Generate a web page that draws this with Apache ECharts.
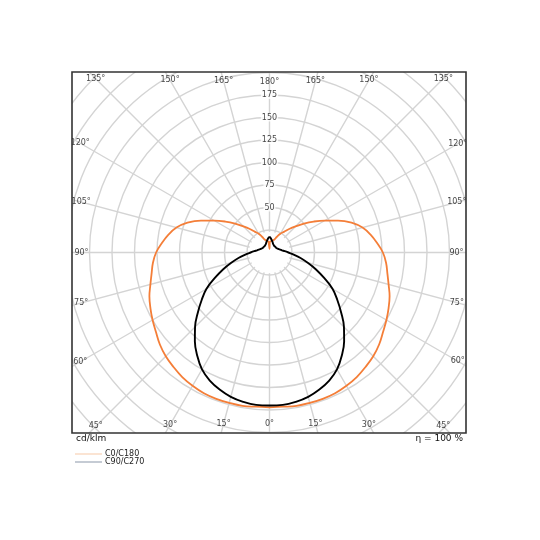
<!DOCTYPE html>
<html>
<head>
<meta charset="utf-8">
<script src="https://cdn.jsdelivr.net/npm/echarts@6/dist/echarts.min.js"></script>
<style>html,body{margin:0;padding:0;background:#fff}#c{width:540px;height:540px}</style>
</head>
<body>
<div id="c"></div>
<script>
// ---- data ----
const gammaDeg = [0,5,10,15,20,25,30,35,40,45,50,55,60,65,70,75,80,85,90,95,100,105,110,115,120,125,130,135,140,145,150,155,160,165,170,175,178,180];
const c0c180 = [172,172,173,173,173,172.5,171,169,166,163,159,154,150,146,142,137,133,130,126,120,114,107,97,84,71,60,50,41,34,28,24,19,15,14,13,12,12,4];
const c90c270 = [170,170,168.5,166,162,157,150,140,129,117,104,92,81,67,55,44,35,27,21,17,14,12.5,11,10,9.5,9,9,9,9,9,9.5,10,11,12.5,14,16,17,17.5];
const radialTicks = [50,75,100,125,150,175];
const angleTicks = [0,15,30,45,60,75,90,105,120,135,150,165,180,195,210,225,240,255,270,285,300,315,330,345];
const seriesNames = ['C0/C180','C90/C270'];
const unitText = 'cd/klm';
const etaText = 'η = 100 %';

// ---- layout ----
const CX = 269.5, CY = 252.5, PX_PER_UNIT = 0.9, RMAX = 300;
const FRAME = {l:72, t:72, r:466, b:433};
const FONT = 'DejaVu Sans';

function mirror(vals){
  const pts = [];
  for (let i=0;i<gammaDeg.length;i++) pts.push([vals[i], gammaDeg[i]]);
  for (let i=gammaDeg.length-2;i>=0;i--) pts.push([vals[i], 360-gammaDeg[i]]);
  return pts;
}
function edgeRadius(v){
  const a = (270 - v) * Math.PI/180;
  const dx = Math.cos(a), dy = -Math.sin(a);
  let t = Infinity;
  if (dx > 1e-9) t = Math.min(t, (FRAME.r-CX)/dx);
  if (dx < -1e-9) t = Math.min(t, (CX-FRAME.l)/(-dx));
  if (dy > 1e-9) t = Math.min(t, (FRAME.b-CY)/dy);
  if (dy < -1e-9) t = Math.min(t, (CY-FRAME.t)/(-dy));
  return (t - 9.5)/PX_PER_UNIT;
}
const angleLabelData = angleTicks.map(v => ({value:[edgeRadius(v), v], name:(v<=180?v:360-v)+'°'}));
const radialLabelData = radialTicks.map(r => ({value:[r,180], name:String(r)}));
const diskData = angleTicks.concat([360]).map(v => [23, v]);

const chart = echarts.init(document.getElementById('c'), null, {renderer:'canvas'});
chart.setOption({
  animation:false,
  backgroundColor:'#fff',
  polar:{center:[CX, CY], radius: RMAX*PX_PER_UNIT},
  angleAxis:{type:'value', min:0, max:360, interval:15, startAngle:270, clockwise:true,
    axisLine:{show:false}, axisTick:{show:false}, axisLabel:{show:false},
    splitLine:{show:true, lineStyle:{color:'#d4d4d4', width:1.4}}},
  radiusAxis:{type:'value', min:0, max:RMAX, interval:25,
    axisLine:{show:false}, axisTick:{show:false}, axisLabel:{show:false},
    splitLine:{show:true, lineStyle:{color:'#d4d4d4', width:1.4}}},
  legend:{data:[
      {name:seriesNames[0], itemStyle:{color:'#f7c9a6'}},
      {name:seriesNames[1], itemStyle:{color:'#8a97a8'}}],
    orient:'vertical', left:75, top:450, itemGap:0, itemWidth:27, itemHeight:1, icon:'rect',
    padding:0, z:100, textStyle:{fontFamily:FONT, fontSize:8, color:'#222', padding:[0,0,0,-2]}},
  series:[
    {type:'line', coordinateSystem:'polar', data:diskData, showSymbol:false, silent:true, z:2,
      lineStyle:{width:0, color:'#fff'}, areaStyle:{color:'#fff', opacity:1}},
    {name:seriesNames[0], type:'line', coordinateSystem:'polar', data:mirror(c0c180), showSymbol:false, smooth:0.4, z:5,
      lineStyle:{color:'#f47e38', width:1.8}, itemStyle:{color:'#f47e38'}},
    {name:seriesNames[1], type:'line', coordinateSystem:'polar', data:mirror(c90c270), showSymbol:false, smooth:0.4, z:6,
      lineStyle:{color:'#000', width:1.9}, itemStyle:{color:'#000'}},
    {type:'scatter', coordinateSystem:'polar', data:angleLabelData, symbolSize:0, silent:true, z:7,
      label:{show:true, position:'inside', formatter:p=>p.name, fontFamily:FONT, fontSize:8, color:'#111'}},
    {type:'scatter', coordinateSystem:'polar', data:radialLabelData, symbolSize:0, silent:true, z:7,
      label:{show:true, position:'inside', formatter:p=>p.name, fontFamily:FONT, fontSize:8, color:'#111',
        backgroundColor:'#fff', padding:[0,1]}}
  ],
  graphic:[
    {type:'rect', z:50, silent:true, shape:{x:0,y:0,width:540,height:FRAME.t}, style:{fill:'#fff'}},
    {type:'rect', z:50, silent:true, shape:{x:0,y:FRAME.b,width:540,height:540-FRAME.b}, style:{fill:'#fff'}},
    {type:'rect', z:50, silent:true, shape:{x:0,y:0,width:FRAME.l,height:540}, style:{fill:'#fff'}},
    {type:'rect', z:50, silent:true, shape:{x:FRAME.r,y:0,width:540-FRAME.r,height:540}, style:{fill:'#fff'}},
    {type:'rect', z:60, silent:true, shape:{x:FRAME.l,y:FRAME.t,width:FRAME.r-FRAME.l,height:FRAME.b-FRAME.t},
      style:{fill:'none', stroke:'#333', lineWidth:1.6}},
    {type:'text', z:100, silent:true, x:76, y:439, style:{text:unitText, font:'9px "DejaVu Sans"', fill:'#111', textVerticalAlign:'middle', textAlign:'left'}},
    {type:'text', z:100, silent:true, x:463, y:439, style:{text:etaText, font:'9px "DejaVu Sans"', fill:'#111', textVerticalAlign:'middle', textAlign:'right'}}
  ]
});
</script>
</body>
</html>
